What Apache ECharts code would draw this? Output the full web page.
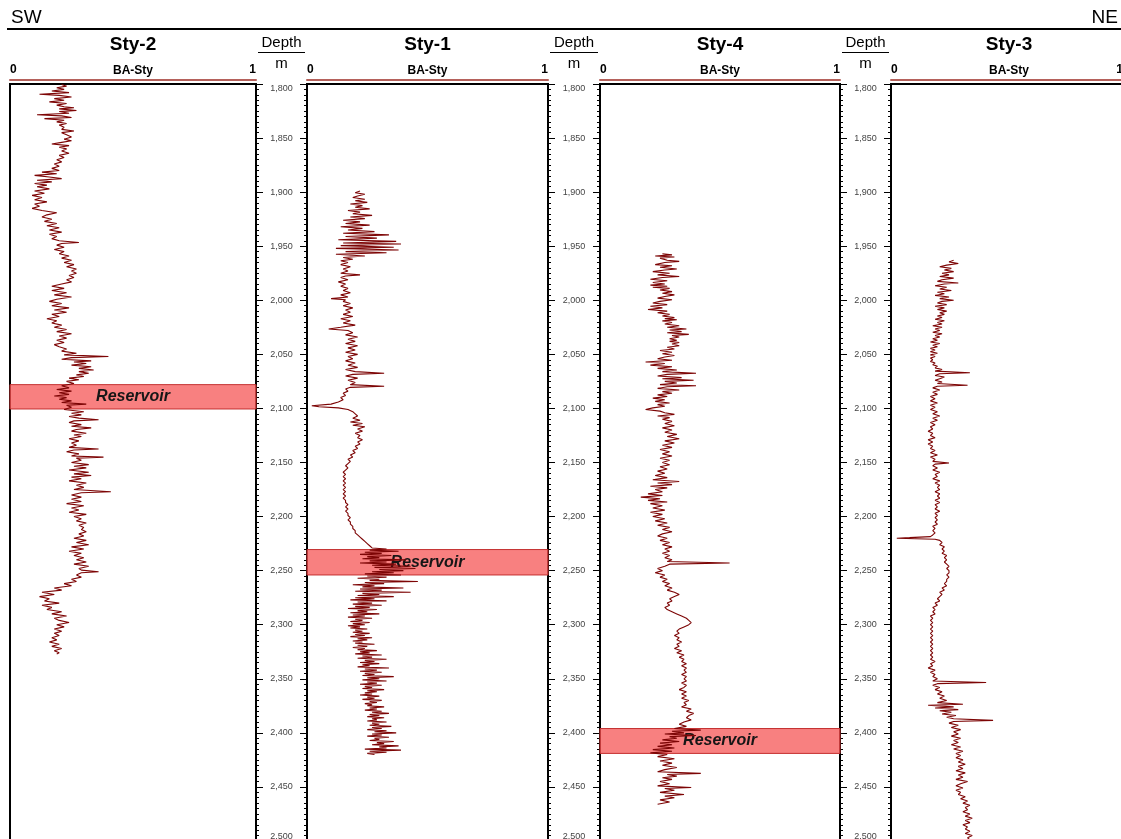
<!DOCTYPE html>
<html>
<head>
<meta charset="utf-8">
<script src="https://cdn.jsdelivr.net/npm/echarts@6/dist/echarts.min.js"></script>
<style>
  html, body { margin: 0; padding: 0; background: #fff; }
  #chart { width: 1121px; height: 839px; }
</style>
</head>
<body>
<div id="chart"></div>
<script>
// Well correlation panel, SW -> NE
const wellNames = ['Sty-2', 'Sty-1', 'Sty-4', 'Sty-3'];
const curveName = 'BA-Sty';
const depthMin = 1800, depthMax = 2500, depthStep = 50;
const depthUnit = 'm';

// BA-Sty log samples per well: [depth (m), value (0..1)]
const sty2 = [[1800.5,.21],[1802,.23],[1803.5,.19],[1805,.22],[1806.5,.17],[1808,.24],[1809.5,.12],[1810.5,.20],[1812,.25],[1813.5,.18],[1815,.22],[1816.5,.16],[1818,.23],[1819.5,.19],[1821,.22],[1822,.26],[1823,.20],[1824.5,.27],[1825.5,.20],[1827,.24],[1828.5,.11],[1829.5,.21],[1831,.25],[1832,.14],[1833.5,.22],[1835,.19],[1836.5,.23],[1838,.20],[1840,.22],[1842,.21],[1843.5,.26],[1845,.21],[1847,.23],[1849,.25],[1851,.22],[1852.5,.25],[1854,.21],[1855.5,.17],[1857,.24],[1858.5,.20],[1860,.23],[1862,.21],[1864,.24],[1866,.20],[1868,.22],[1870,.19],[1872,.21],[1874,.18],[1876,.20],[1878,.17],[1880,.20],[1881.5,.13],[1883,.19],[1884.5,.10],[1886,.16],[1887.5,.21],[1889,.11],[1890.5,.17],[1892,.10],[1893.5,.15],[1895,.11],[1897,.16],[1899,.10],[1901,.14],[1903,.09],[1905,.13],[1907,.10],[1909,.15],[1911,.10],[1913,.12],[1915,.09],[1917,.13],[1919,.19],[1921,.15],[1923,.13],[1925,.17],[1927,.14],[1929,.19],[1931,.15],[1933,.20],[1935,.16],[1937,.21],[1939,.16],[1941,.19],[1943,.17],[1945,.20],[1946.5,.28],[1947.5,.21],[1949,.19],[1951,.22],[1953,.18],[1955,.22],[1957,.20],[1959,.24],[1961,.21],[1963,.25],[1965,.22],[1967,.26],[1969,.23],[1971,.27],[1973,.25],[1975,.27],[1977,.24],[1979,.26],[1981,.23],[1983,.25],[1985,.21],[1987,.17],[1989,.22],[1991,.17],[1993,.23],[1995,.18],[1997,.25],[1999,.19],[2001,.16],[2003,.21],[2005,.17],[2007,.24],[2009,.18],[2011,.23],[2013,.17],[2015,.20],[2017,.15],[2019,.19],[2021,.17],[2023,.21],[2025,.18],[2027,.23],[2029,.19],[2031,.25],[2033,.20],[2035,.23],[2037,.19],[2039,.22],[2041,.18],[2043,.20],[2045,.23],[2047,.21],[2049,.27],[2050.5,.22],[2052,.40],[2053,.25],[2054.5,.21],[2056,.33],[2057,.26],[2058.5,.31],[2060,.25],[2061.5,.33],[2063,.28],[2064.5,.34],[2066,.28],[2067.5,.32],[2069,.27],[2070.5,.30],[2072,.24],[2073.5,.28],[2075,.23],[2077,.26],[2079,.21],[2081,.24],[2082.5,.19],[2084,.25],[2085.5,.20],[2087,.24],[2088.5,.18],[2090,.23],[2091.5,.20],[2093,.25],[2094.5,.21],[2096,.31],[2097,.23],[2099,.25],[2101,.22],[2103,.30],[2104.5,.25],[2106,.29],[2107.5,.24],[2109,.28],[2110.5,.36],[2111.5,.26],[2113,.24],[2115,.29],[2116.5,.25],[2118,.33],[2119.5,.27],[2121,.25],[2123,.31],[2124.5,.26],[2126,.29],[2128,.24],[2130,.28],[2132,.25],[2134,.27],[2136,.24],[2137.5,.36],[2138.5,.26],[2140,.23],[2142,.28],[2144,.25],[2145,.38],[2146,.27],[2148,.29],[2150,.25],[2152,.32],[2153.5,.26],[2155,.31],[2157,.24],[2159,.32],[2160.5,.26],[2162,.33],[2163.5,.25],[2165,.29],[2167,.24],[2169,.31],[2171,.27],[2173,.30],[2175,.26],[2177,.41],[2178,.29],[2180,.25],[2182,.29],[2184,.25],[2186,.29],[2188,.23],[2190,.30],[2192,.25],[2194,.28],[2196,.24],[2198,.31],[2200,.26],[2202,.29],[2204,.27],[2206,.31],[2208,.28],[2210,.30],[2212,.29],[2214,.31],[2216,.28],[2218,.30],[2220,.26],[2222,.31],[2224,.27],[2226,.32],[2228,.25],[2230,.30],[2232,.24],[2234,.29],[2236,.26],[2238,.30],[2240,.27],[2242,.31],[2244,.26],[2246,.32],[2248,.28],[2249.5,.29],[2251,.36],[2252,.29],[2254,.27],[2256,.29],[2258,.25],[2260,.27],[2262,.22],[2264,.25],[2266,.18],[2268,.21],[2270,.13],[2272,.18],[2274,.12],[2276,.16],[2278,.14],[2280,.20],[2282,.13],[2284,.17],[2286,.15],[2288,.21],[2290,.17],[2292,.23],[2294,.18],[2296,.20],[2298,.24],[2300,.19],[2302,.22],[2304,.18],[2306,.21],[2308,.18],[2310,.20],[2312,.17],[2314,.19],[2316,.16],[2318,.20],[2320,.17],[2322,.21],[2324,.18],[2326,.20],[2327,.19]];

const sty1 = [[1899,.22],[1900.5,.20],[1902,.24],[1903.5,.21],[1905,.19],[1906.5,.24],[1908,.20],[1909.5,.25],[1911,.18],[1912.5,.23],[1914,.20],[1915.5,.26],[1917,.17],[1918.5,.22],[1920,.19],[1921.5,.27],[1923,.18],[1924.5,.24],[1926,.15],[1927.5,.22],[1929,.16],[1930.5,.26],[1932,.14],[1933.5,.23],[1935,.17],[1936.5,.28],[1938,.15],[1939.5,.34],[1941,.16],[1942.5,.29],[1944,.13],[1945.5,.37],[1947,.15],[1948,.39],[1949.5,.14],[1951,.36],[1952,.12],[1953.5,.38],[1955,.16],[1956,.33],[1957.5,.12],[1959,.24],[1960.5,.15],[1962,.19],[1963.5,.14],[1965,.17],[1967,.14],[1969,.18],[1971,.15],[1973,.17],[1975,.14],[1976.5,.22],[1977.5,.16],[1979,.14],[1981,.17],[1983,.13],[1985,.16],[1987,.14],[1989,.17],[1991,.15],[1993,.18],[1995,.14],[1997,.17],[1998.5,.10],[1999.5,.16],[2001,.15],[2003,.18],[2005,.15],[2007,.19],[2009,.16],[2011,.18],[2013,.15],[2015,.19],[2017,.14],[2019,.18],[2021,.15],[2023,.20],[2025,.14],[2026.5,.09],[2028,.17],[2030,.19],[2032,.16],[2034,.21],[2036,.17],[2038,.20],[2040,.16],[2042,.21],[2044,.17],[2046,.20],[2048,.16],[2050,.21],[2052,.17],[2054,.19],[2056,.16],[2058,.20],[2060,.17],[2062,.21],[2064,.16],[2066,.20],[2067.5,.32],[2068.5,.19],[2070,.16],[2072,.21],[2074,.17],[2076,.20],[2078,.18],[2079.5,.32],[2080.5,.18],[2082,.16],[2084,.17],[2086,.15],[2088,.16],[2090,.14],[2092,.15],[2094,.13],[2096,.10],[2097.5,.02],[2098.5,.05],[2099.5,.13],[2101,.17],[2103,.19],[2105,.20],[2107,.21],[2109,.19],[2111,.22],[2112.5,.18],[2114,.23],[2115.5,.19],[2117,.24],[2119,.21],[2121,.23],[2123,.20],[2125,.22],[2127,.21],[2129,.23],[2131,.21],[2133,.22],[2135,.20],[2137,.21],[2139,.19],[2141,.20],[2143,.18],[2145,.19],[2147,.17],[2149,.18],[2151,.17],[2153,.16],[2155,.17],[2157,.16],[2159,.15],[2161,.16],[2163,.15],[2165,.16],[2167,.15],[2169,.16],[2171,.15],[2173,.16],[2175,.15],[2177,.16],[2179,.15],[2181,.16],[2183,.15],[2185,.16],[2187,.16],[2189,.17],[2191,.16],[2193,.17],[2195,.16],[2197,.17],[2199,.17],[2201,.18],[2203,.17],[2205,.18],[2207,.18],[2209,.19],[2211,.19],[2213,.20],[2215,.20],[2217,.21],[2219,.22],[2221,.23],[2223,.24],[2225,.25],[2227,.26],[2229,.27],[2230,.33],[2231,.26],[2232,.38],[2233,.24],[2234,.31],[2235,.22],[2236,.35],[2237,.25],[2238,.30],[2239,.23],[2240,.41],[2241,.26],[2242,.33],[2243,.22],[2244,.37],[2245,.27],[2246,.43],[2247,.28],[2248,.45],[2249,.30],[2250,.40],[2251,.27],[2252,.36],[2253,.24],[2254,.39],[2255,.25],[2256,.33],[2257,.21],[2258,.30],[2259,.26],[2260,.46],[2261,.24],[2262,.32],[2263,.19],[2264,.28],[2265,.23],[2266,.40],[2267,.22],[2268,.31],[2269,.20],[2270,.43],[2271,.23],[2272,.30],[2273,.21],[2274,.36],[2275,.20],[2276,.28],[2277,.18],[2278,.33],[2279,.21],[2280,.27],[2281,.19],[2282,.31],[2283,.20],[2284,.26],[2285,.17],[2286,.29],[2287,.21],[2288,.25],[2289,.18],[2290,.30],[2291,.19],[2292,.24],[2293,.17],[2294,.27],[2295,.20],[2296,.23],[2297,.18],[2298,.26],[2299,.19],[2300,.24],[2301,.17],[2302,.22],[2303,.18],[2304,.25],[2305,.20],[2306,.23],[2307,.19],[2308,.26],[2309,.20],[2310,.24],[2311,.18],[2312,.27],[2313,.21],[2314,.25],[2315,.19],[2316,.23],[2317,.20],[2318,.28],[2319,.21],[2320,.25],[2321,.19],[2322,.24],[2323,.21],[2324,.29],[2325,.22],[2326,.26],[2327,.20],[2328,.31],[2329,.23],[2330,.27],[2331,.21],[2332,.33],[2333,.24],[2334,.28],[2335,.22],[2336,.30],[2337,.23],[2338,.26],[2339,.21],[2340,.34],[2341,.24],[2342,.29],[2343,.22],[2344,.31],[2345,.24],[2346,.28],[2347,.23],[2348,.36],[2349,.25],[2350,.30],[2351,.23],[2352,.33],[2353,.25],[2354,.29],[2355,.22],[2356,.31],[2357,.24],[2358,.27],[2359,.23],[2360,.32],[2361,.25],[2362,.29],[2363,.24],[2364,.27],[2365,.22],[2366,.30],[2367,.25],[2368,.28],[2369,.23],[2370,.31],[2371,.26],[2372,.29],[2373,.24],[2374,.27],[2375,.25],[2376,.32],[2377,.26],[2378,.29],[2379,.24],[2380,.31],[2381,.27],[2382,.34],[2383,.26],[2384,.30],[2385,.25],[2386,.32],[2387,.27],[2388,.29],[2389,.25],[2390,.33],[2391,.27],[2392,.30],[2393,.26],[2394,.35],[2395,.27],[2396,.31],[2397,.25],[2398,.33],[2399,.28],[2400,.37],[2401,.27],[2402,.31],[2403,.25],[2404,.34],[2405,.28],[2406,.30],[2407,.26],[2408,.36],[2409,.29],[2410,.32],[2411,.27],[2412,.38],[2413,.30],[2414,.33],[2415,.24],[2416,.39],[2417,.26],[2418,.33],[2419,.25],[2420,.28]];

const sty4 = [[1957,.26],[1958,.30],[1959,.23],[1960,.31],[1961,.25],[1963,.28],[1964,.33],[1965,.27],[1967,.23],[1968,.30],[1969.5,.25],[1971,.32],[1972,.27],[1973.5,.22],[1975,.29],[1976.5,.24],[1978,.33],[1979,.26],[1980.5,.21],[1982,.28],[1983.5,.22],[1985,.27],[1986,.21],[1987,.28],[1988,.22],[1989,.29],[1990.5,.25],[1992,.30],[1993.5,.26],[1995,.31],[1996.5,.27],[1998,.24],[1999.5,.30],[2001,.25],[2002.5,.22],[2004,.28],[2005.5,.21],[2007,.26],[2008.5,.20],[2010,.28],[2011.5,.24],[2013,.29],[2014.5,.26],[2016,.31],[2017,.27],[2018,.32],[2019,.26],[2020.5,.30],[2022,.27],[2023.5,.33],[2025,.28],[2026.5,.36],[2027.5,.29],[2029,.34],[2030,.28],[2031.5,.37],[2032.5,.30],[2034,.33],[2035.5,.29],[2037,.32],[2038,.29],[2039,.33],[2040.5,.30],[2042,.33],[2043.5,.28],[2045,.31],[2046.5,.25],[2048,.30],[2049.5,.26],[2051,.31],[2052.5,.27],[2054,.24],[2055.5,.30],[2057,.19],[2058.5,.27],[2060,.21],[2061.5,.30],[2063,.24],[2064.5,.32],[2066,.26],[2067.5,.40],[2068.5,.28],[2070,.24],[2071.5,.34],[2072.5,.26],[2074,.39],[2075,.27],[2076.5,.32],[2078,.25],[2079,.40],[2080,.28],[2081.5,.24],[2083,.33],[2084.5,.26],[2086,.30],[2087.5,.24],[2089,.28],[2090.5,.22],[2092,.27],[2093.5,.23],[2095,.29],[2096.5,.24],[2098,.27],[2099.5,.22],[2101,.19],[2102.5,.25],[2104,.27],[2105.5,.31],[2107,.24],[2108.5,.29],[2110,.26],[2112,.30],[2114,.27],[2116,.31],[2118,.26],[2120,.30],[2122,.27],[2124,.32],[2126,.28],[2128,.33],[2130,.27],[2132,.31],[2134,.26],[2136,.30],[2138,.25],[2140,.29],[2142,.26],[2144,.30],[2146,.25],[2148,.29],[2150,.26],[2152,.29],[2154,.25],[2156,.28],[2158,.24],[2160,.27],[2162,.23],[2164,.28],[2166,.22],[2167.5,.33],[2169,.24],[2170.5,.30],[2172,.21],[2173.5,.28],[2175,.23],[2177,.26],[2179,.20],[2180.5,.26],[2182,.17],[2183.5,.25],[2185,.20],[2186.5,.28],[2188,.21],[2190,.26],[2192,.22],[2194,.27],[2196,.21],[2198,.26],[2200,.22],[2202,.27],[2204,.23],[2206,.28],[2208,.24],[2210,.29],[2212,.26],[2214,.30],[2216,.26],[2218,.24],[2220,.28],[2222,.25],[2224,.29],[2226,.26],[2228,.30],[2230,.27],[2232,.29],[2234,.26],[2236,.29],[2238,.27],[2240,.30],[2241.5,.28],[2243,.54],[2244,.29],[2246,.27],[2248,.24],[2250,.26],[2252,.23],[2254,.27],[2256,.25],[2258,.28],[2260,.26],[2262,.29],[2264,.27],[2266,.30],[2268,.28],[2270,.31],[2272,.33],[2274,.31],[2276,.29],[2278,.30],[2280,.28],[2282,.29],[2284,.27],[2286,.28],[2288,.30],[2290,.32],[2292,.34],[2294,.36],[2296,.37],[2298,.38],[2300,.37],[2302,.35],[2304,.33],[2306,.32],[2308,.33],[2310,.31],[2312,.33],[2314,.32],[2316,.34],[2318,.32],[2320,.33],[2322,.31],[2324,.34],[2326,.32],[2328,.35],[2330,.33],[2332,.35],[2334,.34],[2336,.36],[2338,.34],[2340,.36],[2342,.35],[2344,.36],[2346,.34],[2348,.36],[2350,.35],[2352,.36],[2354,.34],[2356,.36],[2358,.35],[2360,.33],[2362,.36],[2364,.34],[2366,.36],[2368,.34],[2370,.37],[2372,.35],[2374,.36],[2376,.34],[2378,.38],[2380,.36],[2382,.39],[2384,.37],[2386,.36],[2388,.38],[2390,.35],[2392,.33],[2394,.36],[2396,.31],[2397.5,.42],[2398.5,.30],[2400,.35],[2401,.27],[2402.5,.40],[2403.5,.29],[2405,.32],[2406.5,.26],[2408,.33],[2409.5,.25],[2411,.30],[2412.5,.24],[2414,.31],[2415.5,.22],[2417,.30],[2418.5,.21],[2420,.28],[2422,.24],[2424,.31],[2426,.25],[2428,.30],[2430,.26],[2432,.32],[2434,.27],[2436,.24],[2437.5,.42],[2438.5,.28],[2440,.32],[2441.5,.26],[2443,.30],[2445,.25],[2447,.29],[2449,.24],[2450.5,.38],[2451.5,.27],[2453,.31],[2455,.25],[2457,.35],[2458.5,.27],[2460,.31],[2462,.25],[2464,.29],[2466,.24]];

const sty3 = [[1963,.27],[1964.5,.25],[1966,.29],[1967.5,.24],[1969,.21],[1970.5,.26],[1972,.23],[1973.5,.27],[1975,.22],[1976.5,.25],[1978,.21],[1979.5,.27],[1981,.22],[1982.5,.20],[1984,.29],[1985,.23],[1986.5,.19],[1988,.24],[1989.5,.21],[1991,.26],[1992.5,.20],[1994,.23],[1995.5,.19],[1997,.25],[1998.5,.21],[2000,.27],[2001,.22],[2002.5,.20],[2004,.24],[2005.5,.19],[2007,.23],[2008.5,.20],[2010,.24],[2011.5,.21],[2013,.23],[2014.5,.20],[2016,.22],[2017.5,.19],[2019,.23],[2020.5,.20],[2022,.22],[2023.5,.18],[2025,.22],[2026.5,.19],[2028,.21],[2029.5,.18],[2031,.22],[2032.5,.19],[2034,.21],[2035.5,.18],[2037,.20],[2038.5,.17],[2040,.21],[2041.5,.18],[2043,.20],[2044.5,.17],[2046,.19],[2047.5,.17],[2049,.20],[2050.5,.17],[2052,.19],[2053.5,.17],[2055,.18],[2056.5,.17],[2058,.19],[2059.5,.18],[2061,.20],[2062.5,.19],[2064,.22],[2065.5,.19],[2067,.34],[2068,.21],[2069.5,.19],[2071,.23],[2072.5,.21],[2074,.19],[2075.5,.22],[2077,.20],[2078.5,.33],[2079.5,.20],[2081,.18],[2083,.21],[2085,.18],[2087,.20],[2089,.17],[2091,.19],[2093,.17],[2095,.20],[2097,.17],[2099,.19],[2101,.17],[2103,.20],[2105,.18],[2107,.21],[2109,.18],[2111,.20],[2113,.17],[2115,.19],[2117,.17],[2119,.18],[2121,.16],[2123,.18],[2125,.17],[2127,.19],[2129,.16],[2131,.18],[2133,.16],[2135,.18],[2137,.17],[2139,.19],[2141,.17],[2143,.20],[2145,.17],[2147,.19],[2149,.18],[2150.5,.25],[2151.5,.19],[2153,.18],[2155,.20],[2157,.18],[2159,.21],[2161,.19],[2163,.20],[2165,.18],[2167,.21],[2169,.19],[2171,.21],[2173,.20],[2175,.21],[2177,.19],[2179,.21],[2181,.20],[2183,.21],[2185,.19],[2187,.21],[2189,.19],[2191,.20],[2193,.19],[2195,.21],[2197,.19],[2199,.20],[2201,.19],[2203,.20],[2205,.19],[2207,.20],[2209,.18],[2211,.19],[2213,.18],[2215,.19],[2217,.18],[2218.5,.17],[2219.5,.08],[2220,.025],[2220.5,.03],[2221,.19],[2222,.21],[2224,.22],[2226,.21],[2228,.23],[2230,.22],[2232,.23],[2234,.22],[2236,.24],[2238,.23],[2240,.24],[2242,.23],[2244,.24],[2246,.25],[2248,.24],[2250,.25],[2252,.25],[2254,.24],[2256,.25],[2258,.24],[2260,.24],[2262,.23],[2264,.24],[2266,.22],[2268,.23],[2270,.21],[2272,.22],[2274,.21],[2276,.20],[2278,.21],[2280,.19],[2282,.20],[2284,.18],[2286,.19],[2288,.18],[2290,.19],[2292,.17],[2294,.18],[2296,.17],[2298,.18],[2300,.17],[2302,.18],[2304,.17],[2306,.18],[2308,.17],[2310,.18],[2312,.17],[2314,.18],[2316,.17],[2318,.18],[2320,.17],[2322,.18],[2324,.17],[2326,.18],[2328,.17],[2330,.18],[2332,.17],[2334,.19],[2336,.17],[2338,.18],[2340,.16],[2342,.19],[2344,.17],[2346,.19],[2348,.18],[2350,.20],[2352,.18],[2353.5,.41],[2354.5,.20],[2356,.18],[2358,.21],[2360,.19],[2362,.22],[2364,.20],[2366,.23],[2368,.21],[2370,.24],[2372,.20],[2373.5,.31],[2374.5,.16],[2376,.27],[2377,.19],[2378.5,.29],[2379.5,.21],[2381,.26],[2382.5,.22],[2384,.28],[2385.5,.24],[2387,.27],[2388.5,.44],[2389.5,.27],[2391,.25],[2393,.29],[2395,.26],[2397,.30],[2399,.27],[2401,.29],[2403,.26],[2405,.30],[2407,.27],[2409,.29],[2411,.26],[2413,.30],[2415,.27],[2417,.31],[2419,.28],[2421,.30],[2423,.28],[2425,.31],[2427,.29],[2429,.32],[2431,.29],[2433,.31],[2435,.28],[2437,.32],[2439,.29],[2441,.31],[2443,.28],[2445,.33],[2447,.30],[2449,.28],[2451,.31],[2453,.28],[2455,.30],[2457,.29],[2459,.32],[2461,.30],[2463,.33],[2465,.31],[2467,.34],[2469,.32],[2471,.33],[2473,.31],[2475,.34],[2477,.32],[2479,.35],[2481,.32],[2483,.34],[2485,.31],[2487,.33],[2489,.32],[2491,.34],[2493,.32],[2495,.35],[2497,.33],[2499,.34]];

const wellLogs = [sty2, sty1, sty4, sty3];

// Reservoir intervals (top, base) in m
const reservoirLabel = 'Reservoir';
const reservoirTop = [2078, 2230.5, 2396, null];
const reservoirBase = [2100.5, 2254, 2419, null];

// ---- layout (px) ----
const FONT = '"Liberation Sans", Arial, Helvetica, sans-serif';
const PLOT_TOP = 84, PLOT_H = 757;
const tracks = [
  { left: 10, width: 246 },
  { left: 307, width: 241 },
  { left: 600, width: 240 },
  { left: 891, width: 232 }
];
const depthCols = [
  { left: 256, width: 51 },
  { left: 548, width: 52 },
  { left: 840, width: 51 }
];
const LOG_COLOR = '#7d0505';

const grid = [], xAxis = [], yAxis = [], series = [], graphic = [];

tracks.forEach((t, i) => {
  const cx = t.left + t.width / 2;
  grid.push({ left: t.left, top: PLOT_TOP, width: t.width, height: PLOT_H,
    outerBoundsMode: 'none', containLabel: false,
    show: true, borderColor: '#000', borderWidth: 2, backgroundColor: 'transparent' });
  xAxis.push({
    type: 'value', gridIndex: i, position: 'top', offset: 4,
    min: 0, max: 1, interval: 1,
    axisLine: { show: true, lineStyle: { color: '#b5615b', width: 2 } },
    axisTick: { show: false }, splitLine: { show: false },
    axisLabel: { show: true, margin: 4, fontFamily: FONT, fontSize: 12, fontWeight: 'bold', color: '#000',
      alignMinLabel: 'left', alignMaxLabel: 'right' }
  });
  yAxis.push({ type: 'value', gridIndex: i, inverse: true, min: depthMin, max: depthMax, show: false });
  series.push({
    type: 'line', name: wellNames[i], xAxisIndex: i, yAxisIndex: i,
    data: wellLogs[i].map(p => [p[1], p[0]]),
    showSymbol: false, symbol: 'none', animation: false, silent: true, z: 2,
    lineStyle: { color: LOG_COLOR, width: 1.1 }
  });
  if (reservoirTop[i] != null) {
    series.push({
      type: 'line', xAxisIndex: i, yAxisIndex: i, data: [], z: 4, animation: false, silent: true,
      markArea: {
        silent: true,
        itemStyle: { color: 'rgba(246,92,92,0.78)', borderColor: '#c43030', borderWidth: 1 },
        label: { show: true, position: 'inside', formatter: reservoirLabel, fontFamily: FONT,
          fontStyle: 'italic', fontWeight: 'bold', fontSize: 16, color: '#161616' },
        data: [[{ xAxis: 0, yAxis: reservoirTop[i] }, { xAxis: 1, yAxis: reservoirBase[i] }]]
      }
    });
  }
  // track header: well name and curve name
  const hx = i === tracks.length - 1 ? cx + 2 : cx;
  graphic.push({ type: 'text', silent: true, x: hx, y: 45,
    style: { text: wellNames[i], font: 'bold 19px ' + FONT, fill: '#000', align: 'center', verticalAlign: 'middle' } });
  graphic.push({ type: 'text', silent: true, x: hx, y: 71,
    style: { text: curveName, font: 'bold 12px ' + FONT, fill: '#000', align: 'center', verticalAlign: 'middle' } });
});

depthCols.forEach((c, k) => {
  const g = tracks.length + k;
  grid.push({ left: c.left, top: PLOT_TOP, width: c.width, height: PLOT_H,
    outerBoundsMode: 'none', containLabel: false, show: false });
  xAxis.push({ type: 'value', gridIndex: g, min: 0, max: 1, show: false });
  ['left', 'right'].forEach(side => {
    yAxis.push({
      type: 'value', gridIndex: g, position: side, inverse: true,
      min: depthMin, max: depthMax, interval: depthStep,
      axisLine: { show: true, onZero: false, lineStyle: { color: '#000', width: 2 } },
      axisTick: { show: true, inside: true, length: 7, lineStyle: { color: '#000', width: 1 } },
      minorTick: { show: true, splitNumber: 10, length: 3, lineStyle: { color: '#000', width: 1 } },
      splitLine: { show: false }, minorSplitLine: { show: false },
      axisLabel: {
        show: side === 'left', inside: true, margin: c.width / 2, align: 'center',
        fontFamily: FONT, fontSize: 9, color: '#444',
        showMinLabel: true, showMaxLabel: true,
        verticalAlignMinLabel: 'top', verticalAlignMaxLabel: 'bottom',
        formatter: v => v.toLocaleString('en-US')
      }
    });
  });
  const cx = c.left + c.width / 2;
  graphic.push({ type: 'text', silent: true, x: cx, y: 43,
    style: { text: 'Depth', font: '15px ' + FONT, fill: '#000', align: 'center', verticalAlign: 'middle' } });
  graphic.push({ type: 'line', silent: true,
    shape: { x1: c.left + 2, y1: 52.5, x2: c.left + c.width - 2, y2: 52.5 },
    style: { stroke: '#000', lineWidth: 1 } });
  graphic.push({ type: 'text', silent: true, x: cx, y: 64,
    style: { text: depthUnit, font: '15px ' + FONT, fill: '#000', align: 'center', verticalAlign: 'middle' } });
});

// section direction and header rule
graphic.push({ type: 'text', silent: true, x: 11, y: 18,
  style: { text: 'SW', font: '19px ' + FONT, fill: '#000', align: 'left', verticalAlign: 'middle' } });
graphic.push({ type: 'text', silent: true, x: 1118, y: 18,
  style: { text: 'NE', font: '19px ' + FONT, fill: '#000', align: 'right', verticalAlign: 'middle' } });
graphic.push({ type: 'line', silent: true,
  shape: { x1: 7, y1: 29, x2: 1121, y2: 29 }, style: { stroke: '#000', lineWidth: 2 } });

const chart = echarts.init(document.getElementById('chart'), null, { renderer: 'canvas' });
chart.setOption({
  backgroundColor: '#fff',
  animation: false,
  grid, xAxis, yAxis, series,
  graphic: { elements: graphic }
});
</script>
</body>
</html>
